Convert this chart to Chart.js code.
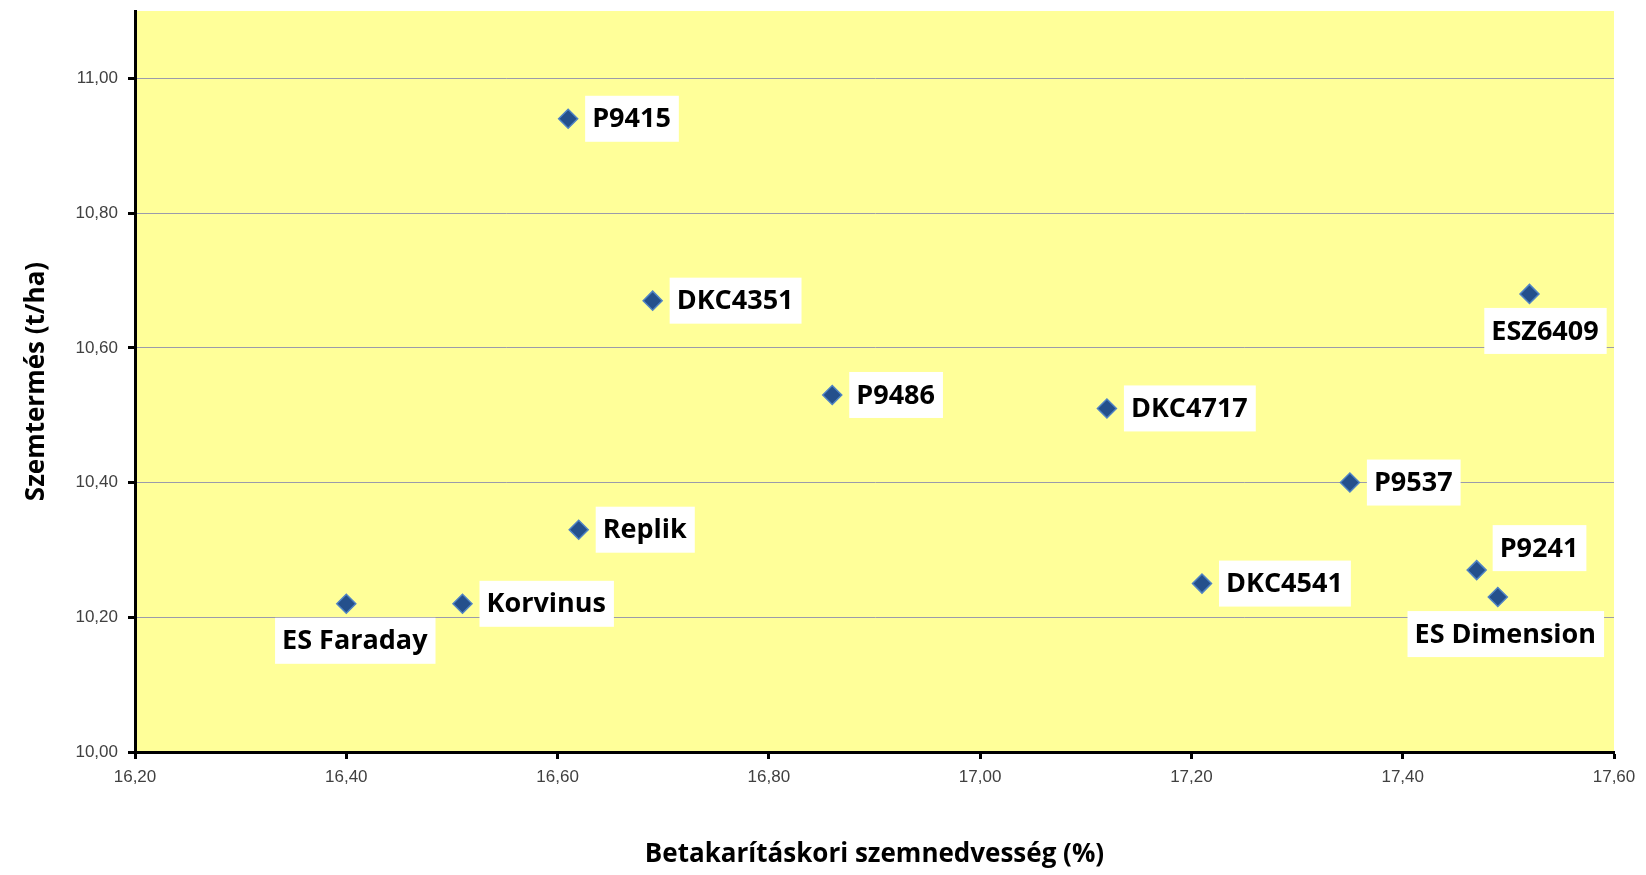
<!DOCTYPE html>
<html>
<head>
<meta charset="utf-8">
<script src="https://cdn.jsdelivr.net/npm/chart.js@4.4.1/dist/chart.umd.min.js"></script>
<style>
  html, body { margin: 0; padding: 0; background: #fff; }
  canvas { display: block; }
</style>
</head>
<body>
<canvas id="chart" width="1646" height="875"></canvas>
<script>
const hybrids = ['P9415', 'DKC4351', 'P9486', 'DKC4717', 'ESZ6409', 'P9537', 'Replik', 'DKC4541', 'P9241', 'ES Dimension', 'ES Faraday', 'Korvinus'];
const moisture = [16.61, 16.69, 16.86, 17.12, 17.52, 17.35, 16.62, 17.21, 17.47, 17.49, 16.40, 16.51];
const grainYield = [10.94, 10.67, 10.53, 10.51, 10.68, 10.40, 10.33, 10.25, 10.27, 10.23, 10.22, 10.22];
const xTicks = [16.2, 16.4, 16.6, 16.8, 17.0, 17.2, 17.4, 17.6];
const yTicks = [10.0, 10.2, 10.4, 10.6, 10.8, 11.0];

// labels default to the right of the marker, a few sit elsewhere
const labelPlacement = {
  'ESZ6409': { side: 'below', dx: 16 },
  'ES Dimension': { side: 'below', dx: 8 },
  'ES Faraday': { side: 'below', dx: 9 },
  'P9241': { side: 'aboveRight', dx: 0 }
};

const fmt = v => Number(v).toFixed(2).replace('.', ',');

const plotBackground = {
  id: 'plotBackground',
  beforeDraw(chart) {
    const { ctx, chartArea: a } = chart;
    ctx.save();
    ctx.fillStyle = '#fff';
    ctx.fillRect(0, 0, chart.width, chart.height);
    ctx.fillStyle = '#ffff99';
    ctx.fillRect(a.left, a.top, a.right - a.left, a.bottom - a.top);
    ctx.restore();
  }
};

const pointLabels = {
  id: 'pointLabels',
  afterDatasetsDraw(chart) {
    const ctx = chart.ctx;
    const meta = chart.getDatasetMeta(0);
    ctx.save();
    ctx.font = 'bold 27px "Open Sans"';
    ctx.textBaseline = 'middle';
    meta.data.forEach((pt, i) => {
      const text = hybrids[i];
      const w = ctx.measureText(text).width + 15;
      const h = 46;
      const place = labelPlacement[text] || { side: 'right', dx: 0 };
      let bx, by;
      if (place.side === 'below') {
        bx = pt.x + place.dx - w / 2;
        by = pt.y + 14;
      } else if (place.side === 'aboveRight') {
        bx = pt.x + 16;
        by = pt.y - 22 - h / 2;
      } else {
        bx = pt.x + 17;
        by = pt.y - h / 2;
      }
      ctx.fillStyle = '#fff';
      ctx.fillRect(bx, by, w, h);
      ctx.fillStyle = '#000';
      ctx.fillText(text, bx + 7, by + h / 2 + 1);
    });
    ctx.restore();
  }
};

new Chart(document.getElementById('chart'), {
  type: 'scatter',
  data: {
    datasets: [{
      data: moisture.map((m, i) => ({ x: m, y: grainYield[i] })),
      pointStyle: 'rectRot',
      pointRadius: 9.5,
      backgroundColor: '#24508c',
      borderColor: '#4f83c4',
      borderWidth: 1.5
    }]
  },
  options: {
    responsive: false,
    animation: false,
    devicePixelRatio: 1,
    layout: { padding: { top: 10, right: 32, left: 0, bottom: 0 } },
    plugins: {
      legend: { display: false },
      tooltip: { enabled: false }
    },
    events: [],
    scales: {
      x: {
        type: 'linear',
        min: 16.2,
        max: 17.6,
        afterBuildTicks: s => { s.ticks = xTicks.map(v => ({ value: v })); },
        afterFit: s => { s.height = 123; s.paddingLeft = 0; s.paddingRight = 0; },
        border: { display: true, color: '#000', width: 3 },
        grid: { drawOnChartArea: false, drawTicks: true, tickLength: 7, tickColor: '#000', tickWidth: 3 },
        ticks: {
          color: '#404040',
          font: { family: 'Liberation Sans', size: 17 },
          padding: 8,
          maxRotation: 0,
          autoSkip: false,
          callback: v => fmt(v)
        },
        title: {
          display: true,
          text: 'Betakarításkori szemnedvesség (%)',
          color: '#000',
          font: { family: 'Open Sans', weight: 'bold', size: 26 },
          padding: { top: 0, bottom: 5 }
        }
      },
      y: {
        type: 'linear',
        min: 10,
        max: 11.1,
        afterBuildTicks: s => { s.ticks = yTicks.map(v => ({ value: v })); },
        afterFit: s => { s.width = 135; s.paddingTop = 0; s.paddingBottom = 0; },
        border: { display: true, color: '#000', width: 3 },
        grid: { color: '#9b9bab', lineWidth: 1, drawTicks: true, tickLength: 7, tickColor: '#000', tickWidth: 3 },
        ticks: {
          color: '#404040',
          font: { family: 'Liberation Sans', size: 17 },
          padding: 10,
          callback: v => fmt(v)
        },
        title: {
          display: true,
          text: 'Szemtermés (t/ha)',
          color: '#000',
          font: { family: 'Open Sans', weight: 'bold', size: 26 },
          padding: { top: 21, bottom: 0 }
        }
      }
    }
  },
  plugins: [plotBackground, pointLabels]
});
</script>
</body>
</html>
